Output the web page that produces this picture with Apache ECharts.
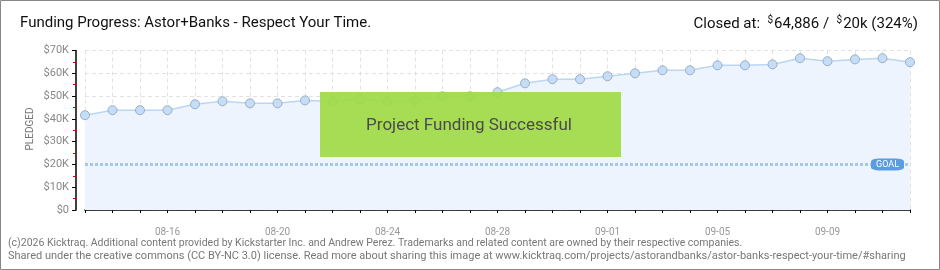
<!DOCTYPE html>
<html><head><meta charset="utf-8">
<script src="https://cdn.jsdelivr.net/npm/echarts@6/dist/echarts.min.js"></script>
<style>html,body{margin:0;padding:0;background:#fff}#c{width:940px;height:270px}</style>
</head><body><div id="c"></div>
<script>
const dates = ['08-13','08-14','08-15','08-16','08-17','08-18','08-19','08-20','08-21','08-22','08-23','08-24','08-25','08-26','08-27','08-28','08-29','08-30','08-31','09-01','09-02','09-03','09-04','09-05','09-06','09-07','09-08','09-09','09-10','09-11','09-12'];
const pledged = [41600,43800,43800,43800,46400,47700,46800,46800,48100,47700,48600,47700,48100,49900,49900,51700,55600,57400,57400,58700,60000,61300,61300,63500,63500,63900,66600,65300,66100,66600,64886];
const goal = 20000;
const yTicks = [0,10000,20000,30000,40000,50000,60000,70000];
const titleText = 'Funding Progress: Astor+Banks - Respect Your Time.';
const footer1 = '(c)2026 Kicktraq. Additional content provided by Kickstarter Inc. and Andrew Perez. Trademarks and related content are owned by their respective companies.';
const footer2 = 'Shared under the creative commons (CC BY-NC 3.0) license. Read more about sharing this image at www.kicktraq.com/projects/astorandbanks/astor-banks-respect-your-time/#sharing';

const FF = 'Roboto, "DejaVu Sans", sans-serif';
const chart = echarts.init(document.getElementById('c'), null, {renderer:'canvas'});
chart.setOption({
  animation:false,
  backgroundColor:'#fff',
  grid:{left:85,right:30,top:50.5,bottom:60},
  xAxis:{
    type:'category', data:dates, boundaryGap:false, offset:10,
    axisLine:{lineStyle:{color:'#000',width:1.5}},
    axisTick:{show:true,interval:0,length:3,lineStyle:{color:'#000'}},
    axisLabel:{interval:function(i){return i%4===3;},color:'#999',fontSize:10,fontFamily:FF,margin:7},
    splitLine:{show:true,interval:0,lineStyle:{color:'#e2e2e2',type:[4,3]}}
  },
  yAxis:{
    type:'value', min:yTicks[0], max:yTicks[yTicks.length-1], interval:10000, offset:9,
    axisLine:{show:true,lineStyle:{color:'#000',width:1.5}},
    axisTick:{show:true,length:4,lineStyle:{color:'#000'}},
    minorTick:{show:true,splitNumber:2,length:3,lineStyle:{color:'#e00000'}},
    axisLabel:{color:'#888',fontSize:11,fontFamily:FF,margin:7,formatter:function(v){return v===0?'$0':'$'+(v/1000)+'K';}},
    splitLine:{show:true,lineStyle:{color:'#e2e2e2',type:[4,3]}}
  },
  series:[{
    type:'line', data:pledged, symbol:'circle', symbolSize:9,
    lineStyle:{color:'#bad6f3',width:1.5},
    itemStyle:{color:'#c6ddf6',borderColor:'#98afcc',borderWidth:1},
    areaStyle:{color:'#edf4fd',opacity:1},
    markLine:{silent:true,symbol:'none',label:{show:false},
      lineStyle:{color:'#a6c6ea',width:3,type:[3,2]},
      data:[{yAxis:goal}]},
    markPoint:{silent:true,symbol:'roundRect',symbolSize:[33,12],symbolOffset:[5,0],
      itemStyle:{color:'#5b9de0'},
      label:{show:true,color:'#fff',fontSize:9,fontFamily:FF,formatter:'GOAL'},
      data:[{coord:[29,goal]}]}
  }],
  graphic:[
    {type:'rect',shape:{x:0.5,y:0.5,width:939,height:269},style:{fill:'none',stroke:'#888',lineWidth:1},z:100},
    {type:'text',left:20,top:16,style:{text:titleText,fill:'#111',fontSize:15,fontFamily:FF}},
    {type:'text',right:22,top:15,style:{
      text:'{n|Closed at:  }{d|$}{n|64,886 /  }{d|$}{n|20k (324%)}',
      rich:{n:{fill:'#111',fontSize:15,fontFamily:FF,lineHeight:18},d:{fill:'#111',fontSize:10,fontFamily:FF,lineHeight:18,verticalAlign:'top',padding:[0,1,6,0]}}}},
    {type:'text',x:30,y:129,rotation:Math.PI/2,style:{text:'PLEDGED',fill:'#777',fontSize:10,fontFamily:FF,align:'center',verticalAlign:'middle'}},
    {type:'rect',shape:{x:320,y:92,width:301,height:65},style:{fill:'rgba(160,218,72,0.93)'},z:50},
    {type:'text',x:469,y:126,z:51,style:{text:'Project Funding Successful',fill:'#4a4a4a',fontSize:17,fontFamily:FF,align:'center',verticalAlign:'middle',textShadowColor:'#fff',textShadowOffsetX:1,textShadowOffsetY:1,textShadowBlur:0}},
    {type:'text',left:8,top:238,style:{text:footer1,fill:'#777',fontSize:10.5,fontFamily:FF}},
    {type:'text',left:8,top:251,style:{text:footer2,fill:'#777',fontSize:11,fontFamily:FF}}
  ]
});
</script></body></html>
